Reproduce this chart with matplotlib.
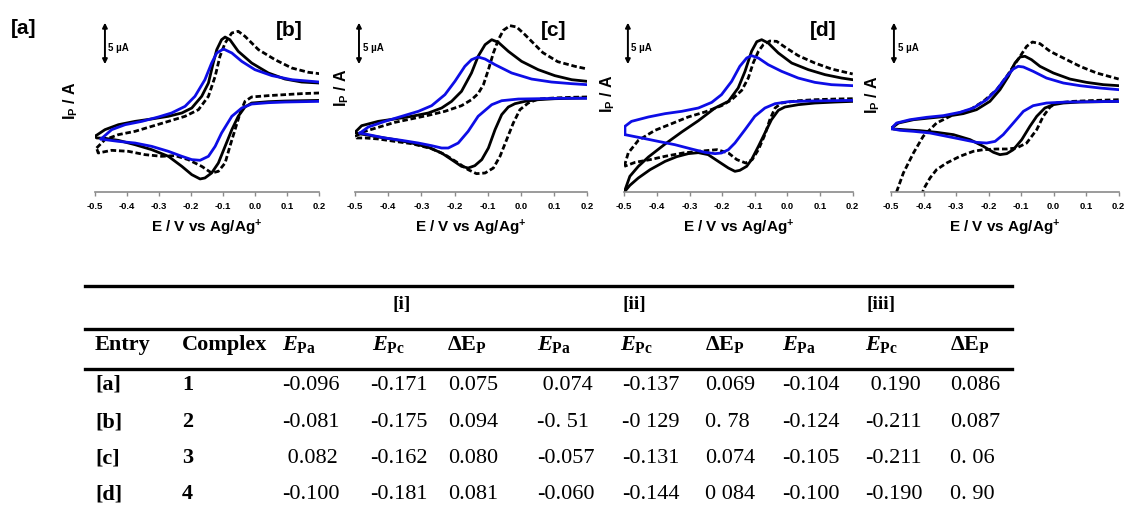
import matplotlib.pyplot as plt
from matplotlib.lines import Line2D

plt.rcParams['font.family'] = ['Liberation Sans', 'DejaVu Sans']
plt.rcParams['mathtext.fontset'] = 'custom'
plt.rcParams['mathtext.rm'] = 'Liberation Serif:bold'
plt.rcParams['mathtext.it'] = 'Liberation Serif:italic:bold'
plt.rcParams['mathtext.bf'] = 'Liberation Serif:bold'
plt.rcParams['mathtext.sf'] = 'Liberation Sans:bold'

# ---- cyclic voltammograms: E in V vs Ag/Ag+, I in uA (forward sweep then reverse) ----
a_solid_E = [-0.500, -0.469, -0.427, -0.375, -0.323, -0.271, -0.229, -0.198, -0.167, -0.146, -0.131, -0.120, -0.105, -0.094, -0.079, -0.053, -0.011, 0.041, 0.093, 0.145, 0.200,
             0.200, 0.145, 0.093, 0.041, -0.011, -0.032, -0.053, -0.073, -0.094, -0.115, -0.136, -0.157, -0.172, -0.198, -0.229, -0.271, -0.323, -0.375, -0.427, -0.469, -0.495, -0.500]
a_solid_I = [6.71, 7.51, 8.11, 8.51, 8.80, 9.12, 9.52, 10.12, 11.53, 13.13, 15.54, 17.15, 18.35, 18.67, 18.35, 16.95, 15.54, 14.34, 13.61, 13.25, 13.13,
             11.04, 11.00, 10.96, 10.88, 10.72, 10.24, 9.12, 7.51, 5.50, 3.49, 2.29, 1.69, 1.57, 2.09, 3.09, 4.30, 5.10, 5.70, 6.22, 6.47, 6.51, 6.71]
a_dash_E = [-0.495, -0.469, -0.427, -0.375, -0.323, -0.271, -0.219, -0.177, -0.146, -0.125, -0.110, -0.094, -0.073, -0.053, -0.032, 0.010, 0.062, 0.114, 0.166, 0.200,
            0.200, 0.145, 0.093, 0.041, -0.011, -0.032, -0.047, -0.063, -0.079, -0.094, -0.115, -0.136, -0.167, -0.209, -0.250, -0.292, -0.344, -0.396, -0.448, -0.490, -0.495]
a_dash_I = [5.30, 6.31, 6.91, 7.31, 7.91, 8.51, 9.12, 9.92, 11.53, 13.94, 16.35, 17.95, 19.16, 19.36, 18.76, 17.15, 15.94, 14.94, 14.42, 14.26,
            11.93, 11.85, 11.73, 11.61, 11.45, 10.92, 9.52, 7.51, 5.50, 3.49, 2.49, 2.29, 3.09, 3.90, 4.38, 4.30, 4.50, 4.90, 5.02, 4.70, 5.30]
a_blue_E = [-0.481, -0.448, -0.406, -0.354, -0.302, -0.261, -0.219, -0.188, -0.157, -0.136, -0.120, -0.099, -0.073, -0.042, -0.001, 0.052, 0.114, 0.200,
            0.200, 0.145, 0.093, 0.041, -0.011, -0.042, -0.073, -0.105, -0.125, -0.146, -0.172, -0.198, -0.229, -0.271, -0.323, -0.375, -0.427, -0.469, -0.481]
a_blue_I = [6.39, 7.51, 8.11, 8.51, 9.04, 9.52, 10.32, 11.53, 13.53, 15.54, 16.75, 17.23, 16.75, 15.74, 14.74, 14.02, 13.53, 13.25,
            10.92, 10.88, 10.84, 10.76, 10.60, 10.12, 9.12, 7.11, 5.50, 4.30, 3.82, 3.90, 4.30, 4.90, 5.50, 5.90, 6.10, 6.31, 6.39]

b_solid_E = [-0.500, -0.480, -0.430, -0.380, -0.329, -0.279, -0.239, -0.209, -0.179, -0.149, -0.129, -0.108, -0.088, -0.068, -0.038, 0.002, 0.052, 0.102, 0.153, 0.200,
             0.200, 0.153, 0.102, 0.052, 0.012, -0.018, -0.038, -0.058, -0.078, -0.098, -0.118, -0.139, -0.159, -0.179, -0.209, -0.239, -0.279, -0.329, -0.380, -0.430, -0.470, -0.490, -0.500]
b_solid_I = [7.19, 7.99, 8.51, 8.80, 9.12, 9.52, 10.12, 10.92, 12.13, 14.34, 16.35, 17.75, 18.35, 18.03, 16.95, 15.74, 14.74, 14.02, 13.53, 13.33,
             11.33, 11.29, 11.24, 11.12, 10.92, 10.64, 10.24, 9.32, 7.51, 5.30, 3.90, 3.17, 2.89, 3.09, 3.90, 4.70, 5.38, 5.90, 6.31, 6.63, 6.91, 7.03, 7.19]
b_dash_E = [-0.500, -0.470, -0.380, -0.279, -0.229, -0.179, -0.149, -0.129, -0.113, -0.098, -0.083, -0.068, -0.053, -0.033, -0.013, 0.012, 0.066, 0.111, 0.163, 0.200,
            0.200, 0.153, 0.102, 0.052, 0.022, -0.003, -0.023, -0.043, -0.063, -0.083, -0.108, -0.134, -0.159, -0.189, -0.229, -0.269, -0.329, -0.380, -0.430, -0.470, -0.495, -0.500]
b_dash_I = [6.71, 7.31, 8.39, 9.24, 9.72, 10.40, 11.12, 11.85, 12.93, 14.74, 16.75, 18.35, 19.48, 20.04, 19.88, 18.96, 16.79, 15.70, 15.14, 14.82,
            11.45, 11.41, 11.33, 11.20, 10.72, 9.92, 8.31, 6.31, 4.30, 2.89, 2.29, 2.21, 2.69, 3.49, 4.50, 5.22, 5.82, 6.10, 6.39, 6.51, 6.51, 6.71]
b_blue_E = [-0.485, -0.460, -0.410, -0.359, -0.309, -0.269, -0.229, -0.199, -0.169, -0.149, -0.129, -0.108, -0.078, -0.028, 0.032, 0.092, 0.153, 0.200,
            0.200, 0.122, 0.052, -0.008, -0.058, -0.088, -0.129, -0.159, -0.189, -0.219, -0.239, -0.269, -0.309, -0.359, -0.410, -0.460, -0.485]
b_blue_I = [7.11, 7.83, 8.51, 9.12, 9.72, 10.40, 11.73, 13.33, 15.14, 15.94, 16.27, 16.02, 15.34, 14.34, 13.61, 13.25, 13.05, 12.93,
            11.29, 11.29, 11.24, 11.20, 11.00, 10.52, 9.12, 7.31, 5.90, 5.30, 5.30, 5.58, 5.90, 6.22, 6.51, 6.91, 7.11]

c_solid_E = [-0.500, -0.483, -0.457, -0.426, -0.375, -0.324, -0.273, -0.222, -0.181, -0.151, -0.130, -0.110, -0.094, -0.079, -0.059, -0.028, 0.013, 0.064, 0.115, 0.166, 0.200,
             0.200, 0.146, 0.084, 0.033, -0.008, -0.028, -0.049, -0.069, -0.089, -0.110, -0.125, -0.146, -0.161, -0.181, -0.212, -0.243, -0.273, -0.304, -0.339, -0.375, -0.421, -0.457, -0.483, -0.500]
c_solid_I = [0.00, 1.89, 3.09, 4.22, 5.78, 7.23, 8.59, 10.12, 10.92, 12.53, 14.54, 16.95, 18.11, 18.35, 17.95, 16.75, 15.54, 14.74, 14.14, 13.73, 13.53,
             10.92, 10.84, 10.72, 10.52, 10.24, 9.84, 8.71, 7.11, 5.50, 3.90, 3.09, 2.61, 2.49, 2.89, 3.69, 4.50, 4.74, 4.62, 4.26, 3.69, 2.69, 1.69, 0.80, 0.00]
c_dash_E = [-0.500, -0.488, -0.457, -0.406, -0.355, -0.304, -0.253, -0.202, -0.171, -0.140, -0.120, -0.105, -0.089, -0.074, -0.054, -0.033, -0.008, 0.033, 0.084, 0.135, 0.200,
            0.200, 0.146, 0.084, 0.033, -0.018, -0.038, -0.054, -0.069, -0.089, -0.108, -0.128, -0.155, -0.181, -0.216, -0.273, -0.320, -0.375, -0.421, -0.467, -0.500]
c_dash_I = [3.09, 4.70, 6.22, 7.43, 8.23, 9.04, 9.64, 10.40, 11.12, 12.25, 13.73, 15.54, 16.95, 17.75, 18.19, 18.15, 17.47, 16.43, 15.54, 14.82, 14.22,
            11.24, 11.20, 11.12, 11.00, 10.72, 10.12, 8.71, 6.91, 5.10, 3.90, 3.49, 3.90, 4.70, 5.10, 4.90, 4.70, 4.30, 3.90, 3.57, 3.09]
c_blue_E = [-0.498, -0.498, -0.478, -0.426, -0.375, -0.324, -0.273, -0.232, -0.202, -0.171, -0.146, -0.125, -0.110, -0.089, -0.059, -0.018, 0.033, 0.084, 0.135, 0.200,
            0.200, 0.135, 0.064, 0.003, -0.038, -0.069, -0.100, -0.130, -0.161, -0.181, -0.202, -0.222, -0.253, -0.294, -0.345, -0.396, -0.447, -0.488, -0.498]
c_blue_I = [6.91, 7.91, 8.51, 9.04, 9.44, 9.72, 10.12, 10.80, 11.73, 13.33, 15.14, 16.14, 16.43, 16.14, 15.34, 14.54, 13.73, 13.21, 12.93, 12.81,
            11.04, 11.00, 10.96, 10.88, 10.64, 10.12, 9.12, 7.51, 5.90, 5.10, 4.70, 4.62, 4.78, 5.18, 5.70, 6.10, 6.51, 6.83, 6.91]

d_solid_E = [-0.498, -0.477, -0.431, -0.380, -0.329, -0.278, -0.237, -0.196, -0.165, -0.139, -0.119, -0.103, -0.088, -0.068, -0.042, -0.001, 0.050, 0.101, 0.153, 0.200,
             0.200, 0.142, 0.081, 0.030, -0.001, -0.027, -0.052, -0.073, -0.098, -0.124, -0.144, -0.165, -0.185, -0.216, -0.257, -0.308, -0.360, -0.411, -0.462, -0.493, -0.498]
d_solid_I = [7.71, 8.31, 8.71, 8.92, 9.12, 9.44, 9.92, 10.92, 12.33, 13.94, 15.54, 16.27, 16.35, 15.94, 15.14, 14.34, 13.61, 13.21, 12.93, 12.81,
             10.92, 10.88, 10.84, 10.72, 10.52, 10.12, 9.12, 7.91, 6.31, 5.10, 4.62, 4.50, 4.78, 5.50, 6.31, 6.91, 7.19, 7.39, 7.51, 7.59, 7.71]
d_dash_E = [-0.483, -0.462, -0.431, -0.401, -0.360, -0.308, -0.257, -0.216, -0.175, -0.144, -0.124, -0.103, -0.083, -0.065, -0.042, -0.011, 0.030, 0.081, 0.132, 0.200,
            0.200, 0.132, 0.060, 0.009, -0.011, -0.032, -0.052, -0.083, -0.114, -0.144, -0.175, -0.216, -0.247, -0.288, -0.329, -0.360, -0.380, -0.395, -0.403]
d_dash_I = [0.00, 2.29, 4.70, 6.71, 8.31, 9.32, 9.92, 10.92, 12.33, 13.94, 15.14, 16.35, 17.55, 18.07, 17.87, 16.95, 16.14, 15.14, 14.34, 13.61,
            11.12, 11.04, 10.92, 10.72, 10.24, 9.12, 7.51, 5.90, 5.30, 5.18, 5.18, 5.10, 4.90, 4.30, 3.49, 2.69, 1.69, 0.68, 0.00]
d_blue_E = [-0.500, -0.483, -0.442, -0.390, -0.339, -0.288, -0.247, -0.206, -0.175, -0.144, -0.124, -0.109, -0.093, -0.063, -0.022, 0.030, 0.081, 0.142, 0.200,
            0.200, 0.122, 0.040, -0.022, -0.063, -0.093, -0.124, -0.155, -0.180, -0.206, -0.237, -0.278, -0.329, -0.380, -0.431, -0.472, -0.500]
d_blue_I = [7.63, 8.31, 8.71, 9.00, 9.20, 9.60, 10.12, 11.12, 12.33, 13.94, 14.82, 15.14, 15.06, 14.54, 13.73, 13.13, 12.81, 12.53, 12.33,
            10.92, 10.88, 10.84, 10.72, 10.40, 9.72, 8.31, 6.91, 6.10, 5.90, 5.98, 6.31, 6.71, 7.11, 7.31, 7.43, 7.63]

tick_vals = [-0.5, -0.4, -0.3, -0.2, -0.1, 0.0, 0.1, 0.2]
tick_text = ['-0.5', '-0.4', '-0.3', '-0.2', '-0.1', '0.0', '0.1', '0.2']
panel_tags = ['[a]', '[b]', '[c]', '[d]']

# ---- table ----
group_labels = ['[i]', '[ii]', '[iii]']
col_heads = [r'$E_{\mathrm{Pa}}$', r'$E_{\mathrm{Pc}}$', r'ΔE$_{\mathrm{P}}$'] * 3
entries = ['[a]', '[b]', '[c]', '[d]']
complexes = ['1', '2', '3', '4']
row_a = ['-0.096', '-0.171', '0.075', ' 0.074', '-0.137', '0.069', '-0.104', ' 0.190', '0.086']
row_b = ['-0.081', '-0.175', '0.094', '-0. 51', '-0 129', '0. 78', '-0.124', '-0.211', '0.087']
row_c = [' 0.082', '-0.162', '0.080', '-0.057', '-0.131', '0.074', '-0.105', '-0.211', '0. 06']
row_d = ['-0.100', '-0.181', '0.081', '-0.060', '-0.144', '0 084', '-0.100', '-0.190', '0. 90']

W, H = 1124, 516
fig = plt.figure(figsize=(W / 100, H / 100), dpi=100)


def fx(p):
    return p / W


def fy(p):
    return 1 - p / H


def draw_loop(ax, E, I, **kw):
    k = E.index(max(E))
    ax.plot(E[:k + 1], I[:k + 1], **kw)
    ax.plot(E[k + 1:], I[k + 1:], **kw)


curves = [
    (a_solid_E, a_solid_I, a_dash_E, a_dash_I, a_blue_E, a_blue_I),
    (b_solid_E, b_solid_I, b_dash_E, b_dash_I, b_blue_E, b_blue_I),
    (c_solid_E, c_solid_I, c_dash_E, c_dash_I, c_blue_E, c_blue_I),
    (d_solid_E, d_solid_I, d_dash_E, d_dash_I, d_blue_E, d_blue_I),
]
# axes extents in pixels (left, right)
ax_px = [(95, 319.3), (355, 587.3), (624.3, 852.7), (891, 1118.7)]
ylab_px = [(71, 101), (342, 88), (608, 94), (873, 95)]
tag_px = [(24, 29), (289, 30), (554, 31), (823, 30)]
bar_x = [-0.469, -0.488, -0.489, -0.491]

for i, (sE, sI, dE, dI, bE, bI) in enumerate(curves):
    l, r = ax_px[i]
    ax = fig.add_axes([fx(l), fy(192), (r - l) / W, 187 / H])
    draw_loop(ax, dE, dI, color='k', lw=2.0, dashes=(2.0, 1.0), solid_joinstyle='round')
    draw_loop(ax, sE, sI, color='k', lw=2.0, solid_joinstyle='round')
    draw_loop(ax, bE, bI, color='#0d0de6', lw=2.0, solid_joinstyle='round')
    ax.set_xlim(-0.5, 0.2)
    ax.set_ylim(0, 22.53)
    for s in ['top', 'left', 'right']:
        ax.spines[s].set_visible(False)
    ax.spines['bottom'].set_color('#8a8a8a')
    ax.spines['bottom'].set_linewidth(1.2)
    ax.set_yticks([])
    ax.set_xticks(tick_vals)
    ax.set_xticklabels(tick_text, fontsize=6.8, fontweight='bold')
    ax.tick_params(axis='x', direction='out', length=3, width=1, color='#8a8a8a', pad=4)
    ax.patch.set_visible(False)

    # 5 uA scale bar
    ax.annotate('', xy=(bar_x[i], 20.4), xytext=(bar_x[i], 15.4),
                arrowprops=dict(arrowstyle='<|-|>', color='k', lw=1.4,
                                mutation_scale=7, shrinkA=0, shrinkB=0))
    ax.text(bar_x[i] + 0.011, 17.4, '5 µA', fontsize=7, fontweight='bold', va='center')

    fig.text(fx((l + r) / 2), fy(232), r'E / V vs Ag/Ag$^{\mathsf{+}}$',
             ha='center', va='baseline', fontsize=11, fontweight='bold')
    fig.text(fx(ylab_px[i][0]), fy(ylab_px[i][1]), r'$\mathsf{I_P}$ / A', rotation=90,
             ha='center', va='center', fontsize=11.5, fontweight='bold')
    fig.text(fx(tag_px[i][0]), fy(tag_px[i][1]), panel_tags[i],
             ha='center', va='center', fontsize=15, fontweight='bold')

# ---- table drawing ----
serif = ['Liberation Serif', 'DejaVu Serif']
for yr in [285.5, 329, 368.5]:
    fig.add_artist(Line2D([fx(85), fx(1012)], [fy(yr), fy(yr)], transform=fig.transFigure,
                          color='k', lw=2.4))

group_x = [392, 622, 866]
for gx, g in zip(group_x, group_labels):
    fig.text(fx(gx), fy(309), g, family=serif, fontweight='bold', fontsize=14, va='baseline')

head_x = [282, 372, 447, 537, 620, 705, 782, 865, 950]
val_x = [282, 370, 448, 537, 622, 705, 782, 865, 950]
fig.text(fx(95), fy(350), 'Entry', family=serif, fontweight='bold', fontsize=16, va='baseline')
fig.text(fx(182), fy(350), 'Complex', family=serif, fontweight='bold', fontsize=16, va='baseline')
for hx, h in zip(head_x, col_heads):
    fig.text(fx(hx), fy(350), h, family=serif, fontweight='bold', fontsize=16, va='baseline')

row_base = [390, 427, 463, 499]
for rb, ent, cpx, vals in zip(row_base, entries, complexes, [row_a, row_b, row_c, row_d]):
    fig.text(fx(95), fy(rb), ent, family=serif, fontweight='bold', fontsize=16, va='baseline')
    fig.text(fx(182), fy(rb), cpx, family=serif, fontweight='bold', fontsize=16, va='baseline')
    for vx, v in zip(val_x, vals):
        fig.text(fx(vx), fy(rb), v, family=serif, fontsize=16, va='baseline')

fig.savefig('out.png', dpi=100)
